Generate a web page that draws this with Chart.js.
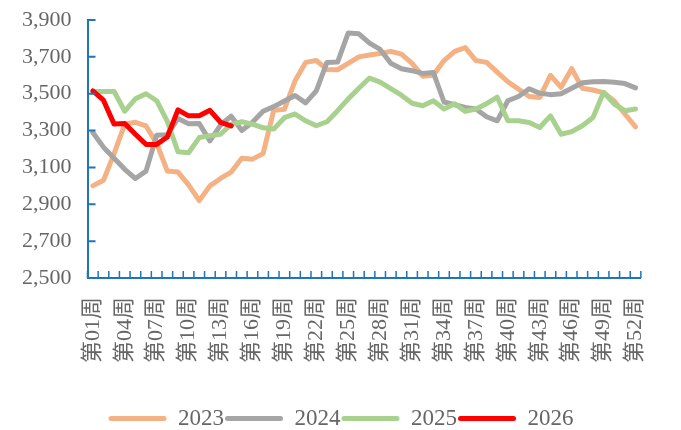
<!DOCTYPE html>
<html>
<head>
<meta charset="utf-8">
<script src="https://cdn.jsdelivr.net/npm/chart.js@4.4.1/dist/chart.umd.min.js"></script>
<style>
  html, body { margin: 0; padding: 0; background: #fff; }
  #wrap { width: 681px; height: 430px; }
</style>
</head>
<body>
<div id="wrap"><canvas id="chart"></canvas></div>
<script>
// ==============================
// DATA
// ==============================
const weeks = [
  "第01周", "第02周", "第03周", "第04周", "第05周", "第06周", "第07周", "第08周", "第09周", "第10周",
  "第11周", "第12周", "第13周", "第14周", "第15周", "第16周", "第17周", "第18周", "第19周", "第20周",
  "第21周", "第22周", "第23周", "第24周", "第25周", "第26周", "第27周", "第28周", "第29周", "第30周",
  "第31周", "第32周", "第33周", "第34周", "第35周", "第36周", "第37周", "第38周", "第39周", "第40周",
  "第41周", "第42周", "第43周", "第44周", "第45周", "第46周", "第47周", "第48周", "第49周", "第50周",
  "第51周", "第52周"
];

// only every third week gets a label
const shownWeeks = [
  "第01周", "第04周", "第07周", "第10周", "第13周", "第16周", "第19周", "第22周", "第25周",
  "第28周", "第31周", "第34周", "第37周", "第40周", "第43周", "第46周", "第49周", "第52周"
];

const yTicks = [2500, 2700, 2900, 3100, 3300, 3500, 3700, 3900];

const s2023 = [
  3000, 3030, 3175, 3335, 3345, 3325, 3230, 3080, 3075, 3005,
  2920, 3000, 3040, 3075, 3150, 3145, 3175, 3410, 3415, 3570,
  3670, 3680, 3632, 3630, 3665, 3700, 3710, 3718, 3730, 3715,
  3665, 3595, 3600, 3680, 3730, 3750, 3680, 3670, 3617, 3565,
  3525, 3485, 3480, 3600, 3535, 3636, 3530, 3520, 3505, 3460,
  3390, 3320
];

const s2024 = [
  3290, 3210, 3150, 3090, 3040, 3080, 3275, 3278, 3365, 3337,
  3338, 3244, 3330, 3378, 3300, 3345, 3405, 3430, 3460, 3490,
  3450, 3515, 3670, 3672, 3830, 3825, 3775, 3740, 3665, 3635,
  3625, 3610, 3615, 3455, 3440, 3425, 3417, 3375, 3353, 3462,
  3485, 3527, 3502, 3495, 3500, 3530, 3560, 3565, 3566, 3562,
  3555, 3532
];

const s2025 = [
  3512, 3512, 3512, 3405, 3472, 3500, 3462, 3350, 3185, 3180,
  3262, 3272, 3280, 3333, 3348, 3335, 3315, 3308, 3370, 3390,
  3353, 3326, 3348, 3408, 3472, 3530, 3585, 3563, 3528, 3492,
  3448, 3435, 3462, 3417, 3446, 3404, 3417, 3446, 3481, 3353,
  3353, 3344, 3317, 3380, 3280, 3294, 3326, 3371, 3508, 3444,
  3408, 3417
];

const s2026 = [
  3515, 3465, 3335, 3338, 3280, 3225, 3225, 3265, 3412, 3380,
  3380, 3410, 3345, 3325
];

// ==============================
// STYLE
// ==============================
const axisBlue = "#1F74BC";
const textGrey = "#666666";
const fontFamily = "'Liberation Serif', 'Noto Sans CJK SC', serif";

function series(label, values, color, order) {
  return {
    label: label,
    data: values,
    borderColor: color,
    backgroundColor: color,
    borderWidth: 5,
    pointRadius: 0,
    tension: 0,
    fill: false,
    borderJoinStyle: "round",
    borderCapStyle: "round",
    order: order
  };
}

// tick marks drawn inside the plot, like the original
const innerTicks = {
  id: "innerTicks",
  afterDraw(chart) {
    const { ctx, chartArea, scales } = chart;
    const x = scales.x, y = scales.y;
    ctx.save();
    ctx.strokeStyle = axisBlue;
    ctx.lineWidth = 2;
    ctx.beginPath();
    y.ticks.forEach((t, i) => {
      const py = y.getPixelForTick(i);
      ctx.moveTo(chartArea.left, py);
      ctx.lineTo(chartArea.left + 8, py);
    });
    ctx.stroke();
    ctx.lineWidth = 1.5;
    ctx.beginPath();
    for (let i = 0; i <= weeks.length; i++) {
      const px = x.getPixelForValue(i - 0.5);
      ctx.moveTo(px, chartArea.bottom);
      ctx.lineTo(px, chartArea.bottom - 7);
    }
    ctx.stroke();
    ctx.restore();
  }
};

// ==============================
// RENDER
// ==============================
new Chart(document.getElementById("chart"), {
  type: "line",
  data: {
    labels: weeks,
    datasets: [
      series("2023", s2023, "#F4B183", 3),
      series("2024", s2024, "#A5A5A5", 2),
      series("2025", s2025, "#A9D18E", 1),
      series("2026", s2026, "#FF0000", 0)
    ]
  },
  options: {
    responsive: true,
    maintainAspectRatio: false,
    animation: false,
    layout: { padding: { top: 0, right: 5, left: 6, bottom: -10 } },
    plugins: {
      tooltip: { enabled: false },
      legend: {
        position: "bottom",
        labels: {
          boxWidth: 58,
          boxHeight: 5,
          padding: 1,
          useBorderRadius: true,
          borderRadius: 2.5,
          color: textGrey,
          font: { family: fontFamily, size: 23, lineHeight: 1 },
          sort: (a, b) => a.datasetIndex - b.datasetIndex,
          generateLabels(chart) {
            return Chart.defaults.plugins.legend.labels.generateLabels(chart)
              .map(item => Object.assign(item, { lineWidth: 0 }));
          }
        }
      }
    },
    scales: {
      x: {
        offset: true,
        grid: { display: true, drawOnChartArea: false, drawTicks: false, offset: true },
        border: { display: true, color: axisBlue, width: 2 },
        ticks: {
          autoSkip: false,
          maxRotation: 90,
          minRotation: 90,
          padding: 19,
          color: textGrey,
          font: { family: fontFamily, size: 22 },
          callback(value, index) {
            const lab = weeks[index];
            return shownWeeks.includes(lab) ? lab : "";
          }
        },
        afterFit(scale) { scale.height += 24; }
      },
      y: {
        min: yTicks[0],
        max: yTicks[yTicks.length - 1],
        afterBuildTicks(scale) { scale.ticks = yTicks.map(v => ({ value: v })); },
        afterFit(scale) { scale.paddingTop = 20; scale.paddingBottom = 0; },
        grid: { display: true, drawOnChartArea: false, drawTicks: false },
        border: { display: true, color: axisBlue, width: 2 },
        ticks: {
          padding: 16,
          color: textGrey,
          font: { family: fontFamily, size: 22, lineHeight: 1 },
          callback(value) { return value.toLocaleString("en-US"); }
        }
      }
    }
  },
  plugins: [innerTicks]
});
</script>
</body>
</html>
